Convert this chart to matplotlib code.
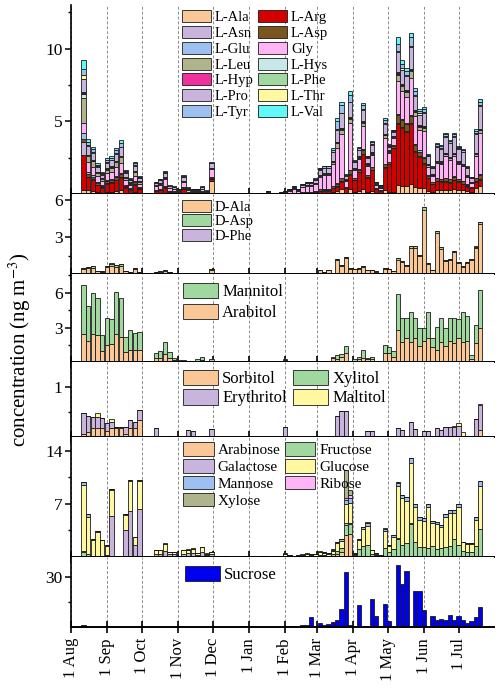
import matplotlib
matplotlib.use('Agg')
import matplotlib.pyplot as plt
import numpy as np
import pandas as pd

plt.rcParams['font.family'] = ['Liberation Serif', 'DejaVu Serif']
plt.rcParams['mathtext.fontset'] = 'stix'

BASE = pd.Timestamp('2017-08-01')

# sample start, days after 1 Aug
days_aug_sep = [9, 13, 17, 21, 25, 29, 33, 37, 41, 45, 49, 53, 57]
days_oct_nov = [71, 75, 79, 83, 87, 91, 95, 99, 103, 107, 111, 115, 119]
days_dec_jul = [122.8, 126.5, 130.3, 134.0, 137.7, 141.5, 145.2, 148.9, 152.6, 156.4,
                160.1, 163.8, 167.6, 171.3, 175.0, 178.8, 182.5, 186.2, 189.9, 193.7,
                197.4, 201.1, 204.9, 208.6, 212.3, 216.1, 219.8, 223.5, 227.2, 231.0,
                234.7, 238.4, 242.2, 245.9, 249.6, 253.4, 257.1, 260.8, 264.5, 268.3,
                272.0, 275.7, 279.5, 283.2, 286.9, 290.7, 294.4, 298.1, 301.8, 305.6,
                309.3, 313.0, 316.8, 320.5, 324.2, 328.0, 331.7, 335.4, 339.1, 342.9,
                346.6, 350.3]
days = days_aug_sep + days_oct_nov + days_dec_jul

# ---- L-amino acids ----
l_ala = [0.3, 0.28, 0.24, 0.15, 0.10, 0.18, 0.19, 0.23, 0.27, 0.11, 0.07, 0.16, 0.08,
         0.06, 0.07, 0.12, 0.05, 0.04, 0.03, 0.09, 0.03, 0.03, 0.03, 0.04, 0.02, 0.9,
         0.02, 0.01, 0, 0, 0.02, 0, 0, 0.02, 0.02, 0, 0, 0.01, 0.05, 0.02, 0.02, 0.03, 0.05,
         0.02, 0.03, 0.02, 0.04, 0.05, 0.05, 0.06, 0.1, 0.11, 0.11, 0.18,
         0.25, 0.35, 0.1, 0.35, 0.15, 0.2, 0.35, 0.15, 0.25, 0.1, 0.08,
         0.3, 0.15, 0.15, 0.65, 0.55, 0.6, 0.7, 0.5, 0.45, 0.45,
         0.2, 0.15, 0.3, 0.3, 0.3, 0.3, 0.35, 0.3, 0.3, 0.2, 0.15, 0.4, 0.6]
l_arg = [2.4, 0.88, 0.75, 0.47, 0.32, 0.55, 0.6, 0.73, 0.86, 0.35, 0.21, 0.49, 0.25,
         0.16, 0.20, 0.32, 0.13, 0.11, 0.08, 0.25, 0.09, 0.08, 0.08, 0.11, 0.05, 0.15,
         0, 0, 0, 0, 0, 0, 0, 0, 0, 0, 0, 0, 0, 0, 0, 0, 0,
         0.03, 0.04, 0.03, 0.05, 0.06, 0.06, 0.07, 0.13, 0.15, 0.15, 0.24,
         0.25, 0.5, 0.3, 1.0, 0.8, 1.3, 2.4, 1.0, 1.4, 0.25, 0.18,
         1.5, 1.9, 3.0, 4.2, 4.0, 3.7, 4.1, 2.4, 2.1, 1.6,
         0.9, 0.55, 0.6, 0.55, 0.55, 0.5, 0.6, 0.55, 0.4, 0.3, 0.25, 0.45, 0.4]
l_asn = [0.9, 0.05, 0.05, 0.05, 0.05, 0.05, 0.05, 0.05, 0.05, 0.05, 0.05, 0.05, 0.05,
         0.03, 0.03, 0.03, 0.01, 0.01, 0.01, 0.03, 0.01, 0.01, 0.01, 0.01, 0.01, 0.03,
         0, 0, 0, 0, 0, 0, 0, 0, 0, 0, 0, 0, 0, 0, 0, 0, 0,
         0.01, 0.01, 0.01, 0.01, 0.01, 0.01, 0.03, 0.03, 0.03, 0.03, 0.03,
         0.05, 0.05, 0.02, 0.05, 0.05, 0.05, 0.05, 0.05, 0.05, 0.02, 0.02,
         0.05, 0.05, 0.05, 0.08, 0.08, 0.08, 0.08, 0.08, 0.08, 0.08,
         0.04, 0.04, 0.04, 0.04, 0.04, 0.04, 0.04, 0.04, 0.04, 0.04, 0.02, 0.04, 0.04]
l_asp = [0.2, 0.21, 0.18, 0.11, 0.08, 0.13, 0.14, 0.18, 0.21, 0.08, 0.05, 0.12, 0.06,
         0.04, 0.06, 0.09, 0.03, 0.03, 0.02, 0.07, 0.03, 0.02, 0.02, 0.03, 0.01, 0.05,
         0, 0, 0, 0, 0, 0, 0, 0, 0, 0, 0, 0, 0, 0, 0, 0, 0,
         0.01, 0.02, 0.01, 0.03, 0.03, 0.03, 0.04, 0.07, 0.07, 0.07, 0.12,
         0.15, 0.2, 0.05, 0.25, 0.1, 0.15, 0.25, 0.1, 0.15, 0.03, 0.02,
         0.2, 0.1, 0.12, 0.5, 0.45, 0.45, 0.5, 0.4, 0.3, 0.35,
         0.12, 0.08, 0.15, 0.15, 0.2, 0.18, 0.2, 0.15, 0.15, 0.1, 0.05, 0.2, 0.3]
l_glu = [0.4, 0.08, 0.08, 0.08, 0.08, 0.08, 0.08, 0.08, 0.08, 0.08, 0.08, 0.08, 0.08,
         0.03, 0.03, 0.03, 0.01, 0.01, 0.01, 0.03, 0.01, 0.01, 0.01, 0.01, 0.01, 0.03,
         0, 0, 0, 0, 0, 0, 0, 0, 0, 0, 0, 0, 0, 0, 0, 0, 0,
         0.01, 0.01, 0.01, 0.01, 0.01, 0.01, 0.03, 0.03, 0.03, 0.03, 0.03,
         0.05, 0.05, 0.02, 0.05, 0.05, 0.05, 0.05, 0.05, 0.05, 0.02, 0.02,
         0.05, 0.05, 0.05, 0.08, 0.08, 0.08, 0.08, 0.08, 0.08, 0.08,
         0.04, 0.04, 0.04, 0.04, 0.04, 0.04, 0.04, 0.04, 0.04, 0.04, 0.02, 0.04, 0.04]
gly = [0.7, 0.70, 0.60, 0.37, 0.26, 0.44, 0.48, 0.59, 0.68, 0.28, 0.17, 0.39, 0.2,
       0.22, 0.28, 0.43, 0.17, 0.15, 0.11, 0.35, 0.13, 0.11, 0.11, 0.15, 0.07, 0.55,
       0.05, 0.03, 0, 0, 0.04, 0, 0, 0.06, 0.04, 0, 0, 0.03, 0.12, 0.05, 0.05, 0.07, 0.12,
       0.18, 0.26, 0.18, 0.33, 0.41, 0.41, 0.46, 0.84, 0.91, 0.91, 1.49,
       2.4, 3.0, 0.45, 3.2, 0.5, 0.65, 1.6, 0.6, 0.8, 0.2, 0.13,
       1.8, 0.6, 0.5, 2.3, 1.9, 1.8, 2.5, 1.9, 1.4, 1.8,
       0.6, 0.4, 1.0, 1.0, 1.5, 1.3, 1.4, 1.0, 1.0, 0.5, 0.3, 1.5, 2.8]
l_leu = [1.7, 0.42, 0.36, 0.22, 0.15, 0.27, 0.29, 0.35, 0.41, 0.17, 0.10, 0.24, 0.12,
         0.04, 0.06, 0.09, 0.03, 0.03, 0.02, 0.07, 0.03, 0.02, 0.02, 0.03, 0.01, 0.06,
         0, 0, 0, 0, 0, 0, 0, 0, 0, 0, 0, 0, 0, 0, 0, 0, 0,
         0.01, 0.02, 0.01, 0.03, 0.03, 0.03, 0.04, 0.07, 0.07, 0.07, 0.12,
         0.35, 0.3, 0.05, 0.3, 0.08, 0.1, 0.2, 0.07, 0.1, 0.02, 0.02,
         0.15, 0.05, 0.05, 0.4, 0.35, 0.3, 0.5, 0.3, 0.2, 0.2,
         0.08, 0.05, 0.1, 0.1, 0.12, 0.1, 0.12, 0.1, 0.08, 0.05, 0.03, 0.15, 0.22]
l_hys = [0.3, 0.05, 0.05, 0.05, 0.05, 0.05, 0.05, 0.05, 0.05, 0.05, 0.05, 0.05, 0.05,
         0.03, 0.03, 0.03, 0.01, 0.01, 0.01, 0.03, 0.01, 0.01, 0.01, 0.01, 0.01, 0.03,
         0, 0, 0, 0, 0, 0, 0, 0, 0, 0, 0, 0, 0, 0, 0, 0, 0,
         0.01, 0.01, 0.01, 0.01, 0.01, 0.01, 0.03, 0.03, 0.03, 0.03, 0.03,
         0.05, 0.05, 0.02, 0.05, 0.05, 0.05, 0.05, 0.05, 0.05, 0.02, 0.02,
         0.05, 0.05, 0.05, 0.08, 0.08, 0.08, 0.08, 0.08, 0.08, 0.08,
         0.04, 0.04, 0.04, 0.04, 0.04, 0.04, 0.04, 0.04, 0.04, 0.04, 0.02, 0.04, 0.04]
l_hyp = [0.05, 0.02, 0.02, 0.02, 0.02, 0.02, 0.02, 0.02, 0.02, 0.02, 0.02, 0.02, 0.02,
         0.01, 0.01, 0.01, 0, 0, 0, 0.01, 0, 0, 0, 0, 0, 0.01,
         0, 0, 0, 0, 0, 0, 0, 0, 0, 0, 0, 0, 0, 0, 0, 0, 0,
         0, 0, 0, 0, 0, 0, 0.02, 0.02, 0.02, 0.02, 0.02,
         0.03, 0.03, 0.01, 0.03, 0.03, 0.03, 0.03, 0.03, 0.03, 0.01, 0.01,
         0.03, 0.03, 0.03, 0.04, 0.04, 0.04, 0.04, 0.04, 0.04, 0.04,
         0.02, 0.02, 0.02, 0.02, 0.02, 0.02, 0.02, 0.02, 0.02, 0.02, 0.01, 0.02, 0.02]
l_phe = [0.05, 0.02, 0.02, 0.02, 0.02, 0.02, 0.02, 0.02, 0.02, 0.02, 0.02, 0.02, 0.02,
         0.01, 0.01, 0.01, 0, 0, 0, 0.01, 0, 0, 0, 0, 0, 0.01,
         0, 0, 0, 0, 0, 0, 0, 0, 0, 0, 0, 0, 0, 0, 0, 0, 0,
         0, 0, 0, 0, 0, 0, 0.02, 0.02, 0.02, 0.02, 0.02,
         0.03, 0.03, 0.01, 0.03, 0.03, 0.03, 0.03, 0.03, 0.03, 0.01, 0.01,
         0.03, 0.03, 0.03, 0.04, 0.04, 0.04, 0.04, 0.04, 0.04, 0.04,
         0.02, 0.02, 0.02, 0.02, 0.02, 0.02, 0.02, 0.02, 0.02, 0.02, 0.01, 0.02, 0.02]
l_pro = [0.9, 0.60, 0.51, 0.32, 0.22, 0.38, 0.41, 0.50, 0.58, 0.24, 0.14, 0.33, 0.17,
         0.15, 0.18, 0.29, 0.12, 0.10, 0.07, 0.23, 0.08, 0.07, 0.07, 0.10, 0.05, 0.3,
         0.03, 0.01, 0, 0, 0.02, 0, 0, 0.04, 0.02, 0, 0, 0.01, 0.08, 0.03, 0.03, 0.05, 0.08,
         0.07, 0.10, 0.07, 0.13, 0.16, 0.16, 0.18, 0.34, 0.36, 0.36, 0.6,
         0.8, 1.0, 0.25, 1.0, 0.35, 0.4, 0.8, 0.35, 0.5, 0.12, 0.07,
         0.7, 0.26, 0.25, 1.4, 1.0, 0.95, 1.5, 0.9, 0.7, 0.85,
         0.55, 0.4, 0.95, 0.88, 1.1, 0.95, 1.1, 0.85, 0.8, 0.5, 0.25, 1.3, 1.6]
l_thr = [0.3, 0.05, 0.05, 0.05, 0.05, 0.05, 0.05, 0.05, 0.05, 0.05, 0.05, 0.05, 0.05,
         0.03, 0.03, 0.03, 0.01, 0.01, 0.01, 0.03, 0.01, 0.01, 0.01, 0.01, 0.01, 0.03,
         0, 0, 0, 0, 0, 0, 0, 0, 0, 0, 0, 0, 0, 0, 0, 0, 0,
         0.01, 0.01, 0.01, 0.01, 0.01, 0.01, 0.03, 0.03, 0.03, 0.03, 0.03,
         0.05, 0.05, 0.02, 0.05, 0.05, 0.05, 0.05, 0.05, 0.05, 0.02, 0.02,
         0.05, 0.05, 0.05, 0.08, 0.08, 0.08, 0.08, 0.08, 0.08, 0.08,
         0.04, 0.04, 0.04, 0.04, 0.04, 0.04, 0.04, 0.04, 0.04, 0.04, 0.02, 0.04, 0.04]
l_tyr = [0.4, 0.21, 0.18, 0.11, 0.08, 0.13, 0.14, 0.18, 0.21, 0.08, 0.05, 0.12, 0.06,
         0.03, 0.04, 0.06, 0.02, 0.02, 0.01, 0.05, 0.02, 0.01, 0.01, 0.02, 0.01, 0.03,
         0, 0, 0, 0, 0, 0, 0, 0, 0, 0, 0, 0, 0, 0, 0, 0, 0,
         0.02, 0.03, 0.02, 0.03, 0.04, 0.04, 0.05, 0.08, 0.09, 0.09, 0.15,
         0.6, 0.5, 0.05, 0.45, 0.07, 0.12, 0.25, 0.08, 0.12, 0.02, 0.01,
         0.2, 0.06, 0.06, 0.5, 0.3, 0.3, 0.6, 0.3, 0.18, 0.2,
         0.08, 0.06, 0.13, 0.12, 0.15, 0.13, 0.15, 0.11, 0.12, 0.05, 0.03, 0.17, 0.25]
l_val = [0.6, 0.21, 0.18, 0.11, 0.08, 0.13, 0.14, 0.18, 0.21, 0.08, 0.05, 0.12, 0.06,
         0.03, 0.04, 0.06, 0.02, 0.02, 0.01, 0.05, 0.02, 0.01, 0.01, 0.02, 0.01, 0.02,
         0, 0, 0, 0, 0, 0, 0, 0, 0, 0, 0, 0, 0, 0, 0, 0, 0,
         0.01, 0.01, 0.01, 0.02, 0.02, 0.02, 0.03, 0.05, 0.05, 0.05, 0.09,
         0.2, 0.25, 0.03, 0.25, 0.05, 0.08, 0.15, 0.05, 0.08, 0.01, 0.01,
         0.15, 0.04, 0.04, 0.42, 0.26, 0.2, 0.31, 0.18, 0.11, 0.15,
         0.05, 0.04, 0.08, 0.07, 0.08, 0.08, 0.08, 0.07, 0.08, 0.03, 0.02, 0.1, 0.15]

# ---- D-amino acids ----
d_ala = [0.45, 0.5, 0.55, 0.25, 0.2, 0.6, 0.7, 0.62, 0.68, 0.25, 0.15, 0.45, 0.15,
         0.15, 0.2, 0.3, 0.15, 0.1, 0.05, 0.08, 0.05, 0.04, 0.05, 0.04, 0.03, 0.38,
         0.02, 0.03, 0, 0.02, 0.03, 0.02, 0, 0.03, 0.02, 0, 0.02, 0.03,
         0.03, 0.05, 0.04, 0.05, 0.06, 0.05, 0.04, 0.05, 0.04, 0.05, 0.05, 0.04,
         0.32, 0.18, 0.32, 0.05, 1.15, 0.7, 1.33, 0.45, 0.42, 0.45, 0.6, 0.32, 0.32,
         0.22, 0.09, 0.45, 0.42, 0.27,
         1.2, 0.98, 0.7, 2.15, 2.15, 1.5, 5.25, 0.82, 0.32, 3.35, 2.05, 1.08, 1.15,
         1.8, 0.95, 0.6, 0.92, 1.15, 2.1, 4.05]
d_asp = [0.08, 0.1, 0.13, 0.05, 0.05, 0.1, 0.17, 0.12, 0.12, 0.05, 0.05, 0.05, 0.05,
         0.03, 0.04, 0.05, 0.03, 0.02, 0.02, 0.02, 0.02, 0.01, 0.02, 0.01, 0.01, 0.03,
         0, 0, 0, 0, 0, 0, 0, 0, 0, 0, 0, 0,
         0, 0, 0, 0, 0, 0, 0, 0, 0, 0, 0, 0,
         0.03, 0.02, 0.03, 0, 0.08, 0.05, 0.1, 0.05, 0.03, 0.05, 0.05, 0.03, 0.03,
         0.03, 0.01, 0.05, 0.03, 0.03,
         0.1, 0.1, 0.05, 0.15, 0.15, 0.1, 0.18, 0.08, 0.03, 0.15, 0.15, 0.09, 0.09,
         0.1, 0.08, 0.05, 0.08, 0.09, 0.15, 0.22]
d_phe = [0.01, 0.01, 0.01, 0, 0, 0.01, 0.01, 0.01, 0.01, 0, 0, 0, 0,
         0, 0, 0, 0, 0, 0, 0, 0, 0, 0, 0, 0, 0,
         0, 0, 0, 0, 0, 0, 0, 0, 0, 0, 0, 0,
         0, 0, 0, 0, 0, 0, 0, 0, 0, 0, 0, 0,
         0, 0, 0, 0, 0.01, 0, 0.01, 0, 0, 0, 0, 0, 0,
         0, 0, 0, 0, 0,
         0.01, 0.01, 0, 0.01, 0.01, 0, 0.02, 0, 0, 0.01, 0.01, 0, 0,
         0.01, 0, 0, 0, 0.01, 0.01, 0.02]

# ---- mannitol / arabitol ----
arabitol = [2.45, 1.87, 2.42, 2.36, 0.98, 1.5, 1.55, 2.42, 2.22, 0.92, 1.07, 1.07, 1.07,
            0.35, 0.35, 0.69, 0.35, 0.2, 0.1, 0.08, 0.07, 0.05, 0.12, 0.2, 0.05, 0.12,
            0.02, 0, 0.03, 0, 0, 0.04, 0, 0, 0.03, 0, 0, 0.05, 0.03, 0, 0.02, 0.05, 0.2,
            0.03, 0.02, 0.03, 0, 0.05, 0.03, 0, 0.02, 0, 0.03,
            0.35, 0.3, 0.5, 0.78, 0.05, 0.15, 0.3, 0.4, 0.25, 0.25, 0.03, 0.03, 0.78,
            0.78, 0.5,
            2.79, 1.79, 2.13, 1.79, 2.07, 1.44, 1.84, 2.07, 1.36, 1.04, 1.79, 1.44, 1.84,
            1.64, 2.07, 1.79, 1.8, 0.3, 1.64, 3.0]
mannitol = [4.23, 3.0, 3.54, 3.17, 1.38, 2.3, 2.2, 3.63, 3.31, 1.24, 1.72, 1.43, 1.58,
            0.43, 0.63, 1.09, 0.51, 0.2, 0.1, 0.1, 0.07, 0.05, 0.14, 0.23, 0.08, 0.14,
            0.02, 0, 0.02, 0, 0, 0.03, 0, 0, 0.02, 0, 0, 0.04, 0.02, 0, 0.02, 0.05, 0.12,
            0.03, 0.02, 0.02, 0, 0.05, 0.03, 0, 0.02, 0, 0.03,
            0.15, 0.33, 0.2, 0.63, 0.05, 0.1, 0.2, 0.67, 0.15, 0.18, 0.02, 0.02, 0.72,
            0.57, 0.48,
            3.09, 2.01, 1.67, 2.59, 1.73, 1.56, 1.1, 2.31, 0.77, 2.05, 2.07, 1.55, 1.96,
            2.22, 1.68, 2.59, 2.2, 0.33, 1.59, 3.25]

# ---- other sugar alcohols ----
sorbitol = [0.05, 0.1, 0.17, 0.17, 0.17, 0.11, 0.17, 0.17, 0.17, 0.05, 0.17, 0.17, 0.33,
            0, 0, 0, 0, 0, 0, 0, 0.02, 0.02, 0, 0, 0, 0.01,
            0, 0, 0, 0, 0, 0, 0, 0, 0, 0, 0, 0, 0, 0, 0, 0, 0,
            0, 0, 0, 0, 0, 0, 0, 0, 0, 0, 0,
            0, 0, 0, 0, 0, 0, 0, 0, 0, 0, 0,
            0, 0, 0, 0, 0, 0, 0, 0, 0, 0,
            0, 0, 0, 0, 0, 0, 0, 0.02, 0, 0, 0, 0, 0.13]
erythritol = [0.42, 0.31, 0.22, 0.22, 0.21, 0.17, 0.12, 0.02, 0.02, 0.15, 0.16, 0.13, 0.2,
              0.17, 0.02, 0, 0.01, 0, 0, 0, 0.12, 0.1, 0, 0, 0.01, 0.14,
              0, 0, 0, 0, 0, 0, 0, 0, 0, 0, 0, 0, 0, 0, 0, 0, 0.19,
              0, 0, 0, 0, 0, 0, 0, 0, 0, 0, 0,
              0.41, 0.52, 0.52, 0, 0, 0, 0, 0.12, 0.12, 0, 0,
              0, 0, 0, 0.17, 0.13, 0, 0.3, 0.15, 0, 0.12,
              0.12, 0, 0.17, 0.14, 0.19, 0.19, 0.2, 0.2, 0.02, 0, 0, 0.35, 0.5]
xylitol = [0] * 88
maltitol = [0, 0, 0, 0.08, 0, 0, 0.06, 0, 0, 0, 0, 0, 0,
            0, 0, 0, 0, 0, 0, 0, 0, 0, 0, 0, 0, 0,
            0, 0, 0, 0, 0, 0, 0, 0, 0, 0, 0, 0, 0, 0, 0, 0, 0,
            0, 0, 0, 0, 0, 0, 0, 0, 0, 0, 0,
            0, 0, 0, 0, 0, 0, 0, 0, 0, 0, 0,
            0, 0, 0, 0, 0, 0, 0, 0, 0, 0,
            0, 0, 0, 0, 0, 0, 0.02, 0.06, 0.07, 0, 0, 0, 0.03]

# ---- sugars ----
arabinose = [0] * 13 + [0] * 13 + [0] * 28 + [0.3, 0.6, 2.9, 3.0] + [0] * 30
fructose = [0.6, 0.3, 0.15, 0.15, 0.15, 0.2, 0.05, 0, 0, 0.05, 0.05, 0.05, 0.05,
            0, 0, 0, 0, 0, 0, 0, 0, 0, 0, 0, 0, 0,
            0, 0, 0, 0, 0, 0, 0, 0, 0, 0, 0, 0, 0, 0, 0,
            0.03, 0.13, 0.06, 0.03, 0.06, 0.09, 0.13, 0.1, 0.12, 0.23, 0.2, 0.15, 0.3,
            0.5, 0.6, 1.3, 1.3, 0.2, 1.0, 1.4, 1.6, 0.4, 0.2, 0.1, 1.2, 0.6, 1.0,
            2.4, 1.5, 1.8, 4.3, 2.0, 1.3, 1.3, 1.2, 1.4, 1.0, 1.2, 1.3, 1.4, 2.4, 1.5,
            0.8, 0.6, 0.6, 1.4, 3.7]
galactose = [0.2, 0.1, 0, 0, 0, 0, 5.3, 0, 0, 3.5, 6.0, 1.5, 6.2,
             0.4, 0.4, 0.8, 0.3, 0.3, 0.05, 0.4, 0.45, 0.5, 0.25, 0.6, 0.2, 0.3,
             0, 0, 0, 0, 0, 0, 0, 0, 0, 0, 0, 0, 0, 0, 0,
             0, 0, 0, 0, 0, 0, 0, 0, 0, 0, 0, 0, 0,
             0, 0, 0.2, 0.2, 0, 0, 0, 0, 0, 0, 0, 0, 0, 0,
             0.1, 0, 0, 0.2, 0, 0, 0, 0, 0, 0, 0, 0, 0, 0, 0,
             0, 0, 0, 0, 0]
glucose = [8.7, 4.9, 2.1, 3.15, 2.0, 1.25, 3.4, 0, 0, 2.0, 3.9, 1.0, 3.7,
           0.43, 0.43, 0.86, 0.33, 0.33, 0.05, 0.43, 0.5, 0.55, 0.23, 0.65, 0.22, 0.33,
           0.02, 0, 0.03, 0, 0.02, 0, 0, 0.03, 0, 0.02, 0, 0.03, 0.02, 0, 0.03,
           0.05, 0.22, 0.1, 0.05, 0.1, 0.15, 0.22, 0.17, 0.2, 0.37, 0.33, 0.25, 0.5,
           1.0, 0.9, 2.5, 2.6, 0.2, 1.2, 2.2, 2.5, 0.45, 0.2, 0.1, 2.2, 0.8, 1.6,
           6.8, 6.2, 5.6, 7.9, 4.5, 3.6, 3.4, 5.4, 3.0, 3.3, 2.7, 4.0, 4.4, 3.4, 5.1,
           1.1, 1.1, 1.1, 3.5, 5.6]
mannose = [0.4, 0.3, 0.08, 0.1, 0.05, 0.05, 0.15, 0, 0, 0.05, 0.15, 0.05, 0.15,
           0, 0, 0, 0, 0, 0, 0, 0, 0, 0, 0, 0, 0,
           0, 0, 0, 0, 0, 0, 0, 0, 0, 0, 0, 0, 0, 0, 0,
           0.01, 0.04, 0.02, 0.01, 0.02, 0.03, 0.04, 0.04, 0.04, 0.07, 0.06, 0.05, 0.1,
           0.2, 0.3, 0.6, 0.7, 0.04, 0.2, 0.3, 0.3, 0.05, 0.04, 0, 0.3, 0.1, 0.3,
           0.5, 0.5, 0.5, 0.6, 0.4, 0.4, 0.4, 0.4, 0.3, 0.3, 0.3, 0.4, 0.4, 0.4, 0.4,
           0.1, 0.1, 0.1, 0.4, 0.7]
ribose = [0] * 56 + [0.3, 0.3] + [0] * 10 + [0.1, 0, 0, 0.1] + [0] * 16
xylose = [0, 0, 0, 0, 0, 0, 0, 0, 0, 0, 0, 0, 0,
          0.05, 0.05, 0.1, 0.03, 0.03, 0, 0.05, 0.05, 0.05, 0.02, 0.05, 0.02, 0.03,
          0, 0, 0, 0, 0, 0, 0, 0, 0, 0, 0, 0, 0, 0, 0,
          0.01, 0.05, 0.02, 0.01, 0.02, 0.03, 0.05, 0.04, 0.04, 0.08, 0.07, 0.05, 0.1,
          0, 0, 3.6, 0.7, 0, 0, 0, 0.2, 0, 0, 0, 0.1, 0, 0,
          0, 0, 0, 0, 0, 0, 0, 0, 0, 0, 0, 0, 0, 0, 0,
          0, 0, 0, 0, 0]

sucrose = [1.2, 0.3, 0.3, 0, 0, 0.3, 0, 0, 0, 0, 0, 0, 0,
           0, 0, 0, 0, 0, 0, 0, 0, 0, 0, 0, 0, 0,
           0, 0, 0, 0, 0, 0, 0.4, 0, 0, 0, 0, 0, 0, 0, 0, 0, 0.3,
           0.8, 0, 0, 1.5, 1.5, 6.0, 0.5, 2.6, 1.4, 1.6, 3.0,
           4.0, 10.6, 33, 1.4, 0, 13, 0, 0, 16.6, 6.6, 0,
           13.8, 3.4, 0, 37, 26, 33.4, 0, 21.6, 21.6, 10,
           0, 6.6, 4, 4.8, 4, 7.4, 4.4, 6.6, 4.4, 2.6, 3.4, 6, 12]

C_PEACH = '#FAC896'
C_LAV = '#C8B4DC'
C_BLUE = '#9EC0F0'
C_OLIVE = '#B0B48C'
C_GREEN = '#A0D8A0'
C_YELLOW = '#FFF8A0'
C_PINK = '#FFB4F5'

BAR_W = 3.7
EDGE = '#1a1a1a'


def stack_bars(ax, series):
    bottom = np.zeros(len(days))
    handles = {}
    for name, vals, color in series:
        vals = np.array(vals, dtype=float)
        h = ax.bar(days, vals, width=BAR_W, bottom=bottom, align='edge',
                   color=color, edgecolor=EDGE, linewidth=0.6)
        handles[name] = h
        bottom += vals
    return handles


def add_legend(ax, handles, order, x_px, y_px, fs, ncol=1, hl=2.0, hh=0.95,
               ls=0.1, cs=0.4):
    leg = ax.legend([handles[n] for n in order], order, loc='upper left',
                    bbox_to_anchor=(x_px / 500, 1 - y_px / 689),
                    bbox_transform=fig.transFigure, frameon=False, ncol=ncol,
                    fontsize=fs, handlelength=hl, handleheight=hh,
                    handletextpad=0.25, labelspacing=ls, columnspacing=cs,
                    borderpad=0, borderaxespad=0)
    return leg


fig = plt.figure(figsize=(5, 6.89), dpi=100)

# panel extents in pixels (top, bottom)
panel_px = [(5, 194.3), (194.3, 274.3), (274.3, 362.3), (362.3, 436.7),
            (436.7, 556.7), (556.7, 627)]
ylims = [13.0, 6.5, 7.6, 1.49, 15.85, 42.2]
major_ticks = [[5, 10], [3, 6], [3, 6], [1], [7, 14], [30]]
minor_ticks = [[2.5, 7.5, 12.5], [1.5, 4.5], [1.5, 4.5, 7.5], [0.5], [3.5, 10.5], [15]]

months = pd.date_range('2017-08-01', '2018-07-01', freq='MS')
month_days = (months - BASE).days
month_labels = ['1 ' + m.strftime('%b') for m in months]

axes = []
for i, (top, bot) in enumerate(panel_px):
    ax = fig.add_axes([71 / 500, 1 - bot / 689, 423 / 500, (bot - top) / 689])
    ax.set_xlim(0, 364)
    ax.set_ylim(0, ylims[i])
    for s in ['top', 'right']:
        ax.spines[s].set_visible(False)
    ax.spines['left'].set_linewidth(1.2)
    ax.spines['bottom'].set_linewidth(1.4)
    ax.set_xticks(month_days)
    ax.set_xticklabels(month_labels, rotation=90, fontsize=12)
    ax.tick_params(axis='x', direction='inout', length=9, width=1.2,
                   labelbottom=(i == 5))
    ax.set_yticks(major_ticks[i])
    ax.set_yticks(minor_ticks[i], minor=True)
    ax.tick_params(axis='y', which='major', direction='out', length=4, width=1.1,
                   labelsize=12.5, pad=2)
    ax.tick_params(axis='y', which='minor', direction='out', length=2.5, width=1.0)
    ax.set_axisbelow(True)
    ax.xaxis.grid(True, color='#8c8c8c', linestyle=(0, (3, 2)), linewidth=0.7)
    axes.append(ax)

# panel 1: L-amino acids
aa = [('L-Ala', l_ala, C_PEACH), ('L-Arg', l_arg, '#D40000'),
      ('L-Asn', l_asn, C_LAV), ('L-Asp', l_asp, '#7A5520'),
      ('L-Glu', l_glu, C_BLUE), ('Gly', gly, C_PINK),
      ('L-Leu', l_leu, C_OLIVE), ('L-Hys', l_hys, '#C8E8E8'),
      ('L-Hyp', l_hyp, '#F0309C'), ('L-Phe', l_phe, C_GREEN),
      ('L-Pro', l_pro, C_LAV), ('L-Thr', l_thr, C_YELLOW),
      ('L-Tyr', l_tyr, C_BLUE), ('L-Val', l_val, '#60F8F8')]
h = stack_bars(axes[0], aa)
add_legend(axes[0], h, ['L-Ala', 'L-Asn', 'L-Glu', 'L-Leu', 'L-Hyp', 'L-Pro', 'L-Tyr',
                        'L-Arg', 'L-Asp', 'Gly', 'L-Hys', 'L-Phe', 'L-Thr', 'L-Val'],
           182, 10, 10.5, ncol=2, hh=0.9, ls=0.12, cs=0.3)

# panel 2: D-amino acids
h = stack_bars(axes[1], [('D-Ala', d_ala, C_PEACH), ('D-Asp', d_asp, C_GREEN),
                         ('D-Phe', d_phe, C_LAV)])
add_legend(axes[1], h, ['D-Ala', 'D-Asp', 'D-Phe'], 182, 200, 10.5, hh=0.9, ls=0.02)

# panel 3: arabitol + mannitol
h = stack_bars(axes[2], [('Arabitol', arabitol, C_PEACH), ('Mannitol', mannitol, C_GREEN)])
add_legend(axes[2], h, ['Mannitol', 'Arabitol'], 183, 283, 12, hl=2.1, hh=1.05, ls=0.2)

# panel 4: other sugar alcohols
h = stack_bars(axes[3], [('Sorbitol', sorbitol, C_PEACH), ('Erythritol', erythritol, C_LAV),
                         ('Xylitol', xylitol, C_GREEN), ('Maltitol', maltitol, C_YELLOW)])
add_legend(axes[3], h, ['Sorbitol', 'Erythritol', 'Xylitol', 'Maltitol'], 183, 370, 12,
           ncol=2, hl=2.1, hh=1.05, ls=0.1, cs=0.4)

# panel 5: sugars
h = stack_bars(axes[4], [('Arabinose', arabinose, C_PEACH), ('Fructose', fructose, C_GREEN),
                         ('Galactose', galactose, C_LAV), ('Glucose', glucose, C_YELLOW),
                         ('Mannose', mannose, C_BLUE), ('Ribose', ribose, C_PINK),
                         ('Xylose', xylose, C_OLIVE)])
add_legend(axes[4], h, ['Arabinose', 'Galactose', 'Mannose', 'Xylose',
                        'Fructose', 'Glucose', 'Ribose'], 183, 442, 11,
           ncol=2, hl=2.0, hh=1.0, ls=0.12, cs=0.3)

# panel 6: sucrose
h = stack_bars(axes[5], [('Sucrose', sucrose, '#0000F0')])
add_legend(axes[5], h, ['Sucrose'], 185, 566, 12, hl=2.1, hh=1.0)

fig.text(20 / 500, 1 - 350 / 689, 'concentration (ng m$^{-3}$)', rotation=90,
         ha='center', va='center', fontsize=15)

fig.savefig('out.png', dpi=100)
